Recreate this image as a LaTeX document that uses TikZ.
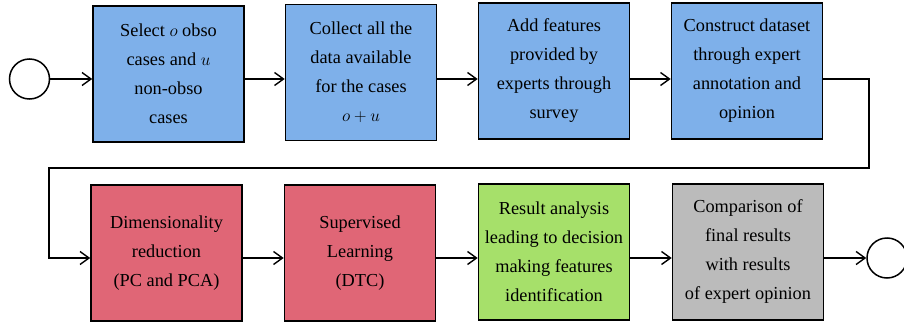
\documentclass[tikz,border=0pt]{standalone}
\usepackage{fontspec}
\setmainfont{Liberation Serif}
\newfontfamily\boxfont{Liberation Serif}
\usetikzlibrary{arrows.meta}
\newcommand{\w}{151pt}
\newcommand{\h}{136pt}

\definecolor{boxblue}{HTML}{7EB0EA}
\definecolor{boxred}{HTML}{E06676}
\definecolor{boxgreen}{HTML}{A6E06A}
\definecolor{boxgray}{HTML}{BBBBBB}

\begin{document}
\begin{tikzpicture}[x=1pt, y=-1pt,
    rect/.style={draw, rectangle, line width=1.6pt, minimum width=\w, minimum height=\h, inner sep=0pt, align=center, font=\boxfont\fontsize{18.3}{29}\selectfont},
    circ/.style={draw, circle, line width=1.5pt, minimum size=40pt, inner sep=0pt},
    arr/.style={line width=1.4pt, -{Straight Barb[length=9pt, width=13pt, line width=1.4pt]}}]
    \useasboundingbox (0,0) rectangle (904,321);

    % First row
    \node[circ] (start) at (29.5,79) {};
    \node[rect, fill=boxblue] (rect-1-1) at (168.5,74) {Select $o$ obso\\cases and $u$\\non-obso\\cases};
    \node[rect, fill=boxblue] (rect-1-2) at (361,72.5) {Collect all the\\data available\\for the cases\\$o+u$};
    \node[rect, fill=boxblue] (rect-1-3) at (554,71) {Add features\\provided by\\experts through\\survey};
    \node[rect, fill=boxblue] (rect-1-4) at (747,71) {Construct dataset\\through expert\\annotation and\\opinion};

    % Second row
    \node[rect, fill=boxred] (rect-2-1) at (166.5,253) {Dimensionality\\reduction\\(PC and PCA)};
    \node[rect, fill=boxred] (rect-2-2) at (360,253) {Supervised\\Learning\\(DTC)};
    \node[rect, fill=boxgreen] (rect-2-3) at (554,252) {Result analysis\\leading to decision\\making features\\identification};
    \node[rect, fill=boxgray] (rect-2-4) at (748,252) {Comparison of\\final results\\with results\\of expert opinion};
    \node[circ] (stop) at (887,258) {};

    \coordinate (bend-r) at (869,168);
    \coordinate (bend-l) at (49,168);

    % Arrows
    \draw[arr] (start) -- (rect-1-1.west |- start);
    \draw[arr] (rect-1-1.east |- start) -- (rect-1-2.west |- start);
    \draw[arr] (rect-1-2.east |- start) -- (rect-1-3.west |- start);
    \draw[arr] (rect-1-3.east |- start) -- (rect-1-4.west |- start);
    \draw[arr] (rect-1-4.east |- start) -| (bend-r) -- (bend-l) |- (rect-2-1.west |- stop);
    \draw[arr] (rect-2-1.east |- stop) -- (rect-2-2.west |- stop);
    \draw[arr] (rect-2-2.east |- stop) -- (rect-2-3.west |- stop);
    \draw[arr] (rect-2-3.east |- stop) -- (rect-2-4.west |- stop);
    \draw[arr] (rect-2-4.east |- stop) -- (stop);

\end{tikzpicture}
\end{document}
